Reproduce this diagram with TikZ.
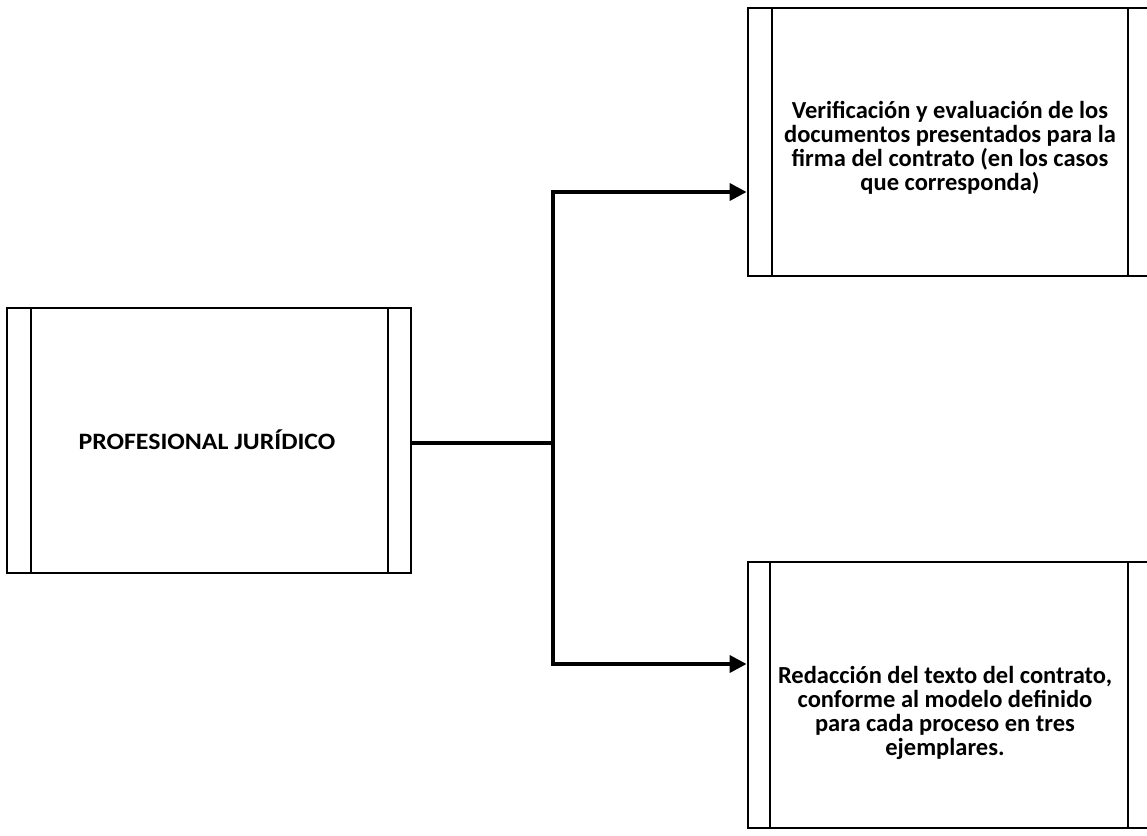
\documentclass[tikz,border=0pt]{standalone}
\usepackage{fontspec}
\setmainfont{Carlito}
\newfontfamily\widefont[FakeStretch=1.1]{Carlito}
\usetikzlibrary{arrows.meta}
\begin{document}
\begin{tikzpicture}[x=1pt,y=-1pt,
  procbox/.style={draw, line width=2.8pt, rectangle, inner sep=0pt},
  inner/.style={line width=2.8pt},
  boxtext/.style={font=\bfseries\fontsize{24.5}{24}\selectfont, align=center, inner sep=0pt},
  conn/.style={line width=3.8pt},
  arr/.style={conn, -{Triangle[length=17pt,width=17pt]}}]
\useasboundingbox (0,0) rectangle (1147,835);
\clip (0,0) rectangle (1147,835);
% left box
\node[procbox, minimum width=404pt, minimum height=265pt] (pj) at (209,440.5) {};
\draw[inner] (31,308) -- (31,573) (388,308) -- (388,573);
\node[boxtext, font=\widefont\bfseries\fontsize{23.5}{26}\selectfont] (pjt) at (207,440) {PROFESIONAL JURÍDICO};
% top box
\node[procbox, minimum width=404pt, minimum height=268pt] (vb) at (950,142) {};
\draw[inner] (772,8) -- (772,276) (1128,8) -- (1128,276);
\node[boxtext] (vt) at (950,148) {Verificación y evaluación de los\\documentos presentados para la\\firma del contrato (en los casos\\que corresponda)};
% bottom box
\node[procbox, minimum width=404pt, minimum height=266pt] (rb) at (950,695) {};
\draw[inner] (770,562) -- (770,828) (1128,562) -- (1128,828);
\node[boxtext] (rt) at (945,713) {Redacción del texto del contrato,\\conforme al modelo definido\\para cada proceso en tres\\ejemplares.};
% connectors
\coordinate (j) at (553,443);
\coordinate (jt) at (553,192);
\coordinate (jb) at (553,664);
\draw[conn] (pj.east |- j) -- (j);
\draw[arr] (j) -- (jt) -- (vb.west |- jt);
\draw[arr] (j) -- (jb) -- (rb.west |- jb);
\end{tikzpicture}
\end{document}
